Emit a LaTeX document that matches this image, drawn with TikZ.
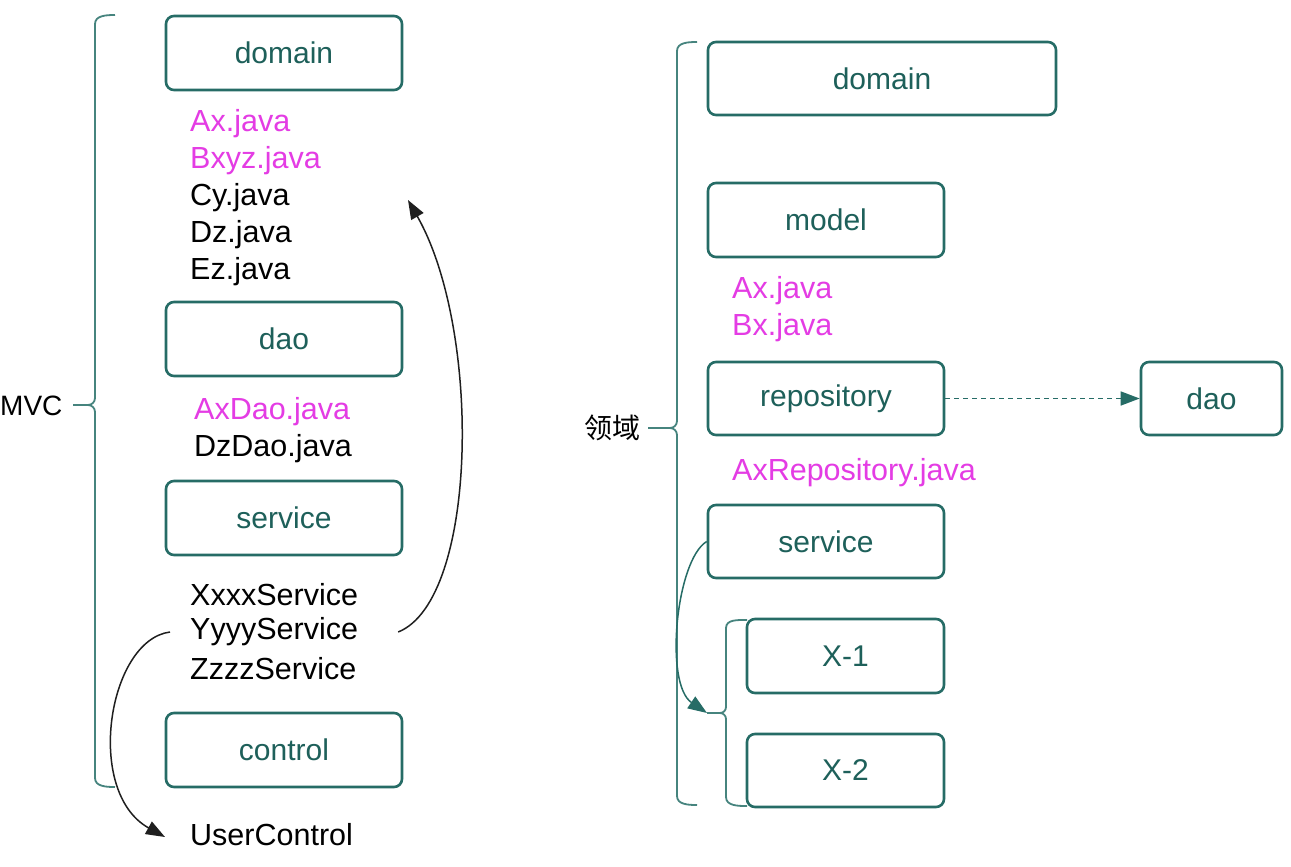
\documentclass[tikz,border=0pt]{standalone}
\usepackage{fontspec}
\setmainfont{Liberation Sans}
\newfontfamily\cjkfont{Noto Sans CJK SC}
\usetikzlibrary{arrows.meta}
\definecolor{boxline}{RGB}{38,108,102}
\definecolor{boxtext}{RGB}{30,96,90}
\definecolor{brackline}{RGB}{70,132,126}
\definecolor{pinkfile}{RGB}{228,60,228}
\begin{document}
\begin{tikzpicture}[x=1pt,y=-1pt,
  box/.style={draw=boxline, line width=2.6pt, rounded corners=8pt, text=boxtext,
    font=\fontsize{30}{36}\selectfont, inner sep=0pt},
  file/.style={anchor=west, inner sep=0pt, font=\fontsize{30.5}{36}\selectfont},
  pinkf/.style={file, text=pinkfile},
  brack/.style={draw=brackline, line width=1.8pt},
  flow/.style={draw=black!88, line width=1.5pt, -{Triangle[length=19pt,width=14pt]}},
  tflow/.style={draw=boxline, line width=1.5pt, -{Triangle[length=19pt,width=14pt]}},
  dflow/.style={draw=boxline, line width=1.5pt, dash pattern=on 5pt off 4pt, -{Triangle[length=19pt,width=14pt]}}]
\useasboundingbox (0,0) rectangle (1291,867);
\fill[white] (0,0) rectangle (1291,867);

% ---------- MVC layout ----------
\node[box, minimum width=236pt, minimum height=74pt] (ldomain) at (284,53) {domain};
\node[box, minimum width=236pt, minimum height=74pt] (ldao) at (284,339) {dao};
\node[box, minimum width=236pt, minimum height=74pt] (lservice) at (284,518) {service};
\node[box, minimum width=236pt, minimum height=74pt] (lcontrol) at (284,750) {control};

\node[pinkf] (ax) at (190,124) {Ax.java};
\node[pinkf] (bxyz) at (190,161) {Bxyz.java};
\node[file] (cy) at (190,198) {Cy.java};
\node[file] (dz) at (190,235) {Dz.java};
\node[file] (ez) at (190,272) {Ez.java};
\node[pinkf] (axdao) at (194,412) {AxDao.java};
\node[file] (dzdao) at (194,449) {DzDao.java};
\node[file] (xxxx) at (190,595) {XxxxService};
\node[file] (yyyy) at (190,632) {YyyyService};
\node[file] (zzzz) at (190,669) {ZzzzService};
\node[file] (userc) at (190,835) {UserControl};

\node[anchor=west, inner sep=0pt, font=\fontsize{28}{34}\selectfont] (mvc) at (0,406) {MVC};

% MVC bracket
\coordinate (mvcnub) at (73,405);
\draw[brack] (115,15) to[out=180,in=90] (95,24) -- (95,398) to[out=-90,in=0] (88,405) -- (mvcnub);
\draw[brack] (88,405) to[out=0,in=90] (95,412) -- (95,778) to[out=-90,in=180] (115,787);

% service calls
\draw[flow] ([xshift=40pt]yyyy.east) .. controls (478,600) and (482,330) .. ([xshift=218pt,yshift=-2pt]cy.west);
\draw[flow] ([xshift=-20pt]yyyy.west) .. controls (108,640) and (84,792) .. ([xshift=-25pt,yshift=-2pt]userc.west);

% ---------- domain layout ----------
\node[box, minimum width=348pt, minimum height=73pt] (rdomain) at (882,78.5) {domain};
\node[box, minimum width=236pt, minimum height=74pt] (rmodel) at (826,220) {model};
\node[box, minimum width=236pt, minimum height=73pt] (rrepo) at (826,398.5) {repository};
\node[box, minimum width=141pt, minimum height=73pt] (rdao) at (1211.5,398.5) {dao};
\node[box, minimum width=236pt, minimum height=73pt] (rservice) at (826,541.5) {service};
\node[box, minimum width=197pt, minimum height=74pt] (x1) at (845.5,656) {X-1};
\node[box, minimum width=197pt, minimum height=73pt] (x2) at (845.5,770.5) {X-2};

\node[pinkf] (rax) at (732,291) {Ax.java};
\node[pinkf] (rbx) at (732,328) {Bx.java};
\node[pinkf] (axrepo) at (732,473) {AxRepository.java};

\node[anchor=east, inner sep=0pt, font=\cjkfont\fontsize{28}{32}\selectfont] (lingyu) at (641,428) {领域};

% domain bracket
\coordinate (lynub) at (648,428);
\draw[brack] (697,42) to[out=180,in=90] (677,51) -- (677,421) to[out=-90,in=0] (670,428) -- (lynub);
\draw[brack] (670,428) to[out=0,in=90] (677,435) -- (677,796) to[out=-90,in=180] (697,805);

% X-1 / X-2 bracket
\coordinate (xnub) at (707,713);
\draw[brack] (747,620) to[out=180,in=90] (726,628) -- (726,707) to[out=-90,in=0] (720,713) -- (xnub);
\draw[brack] (720,713) to[out=0,in=90] (726,719) -- (726,797) to[out=-90,in=180] (747,806);

% connectors
\draw[dflow] (rrepo.east) -- (rdao.west);
\draw[tflow] (rservice.west) .. controls (676,560) and (664,684) .. (xnub);
\end{tikzpicture}
\end{document}
